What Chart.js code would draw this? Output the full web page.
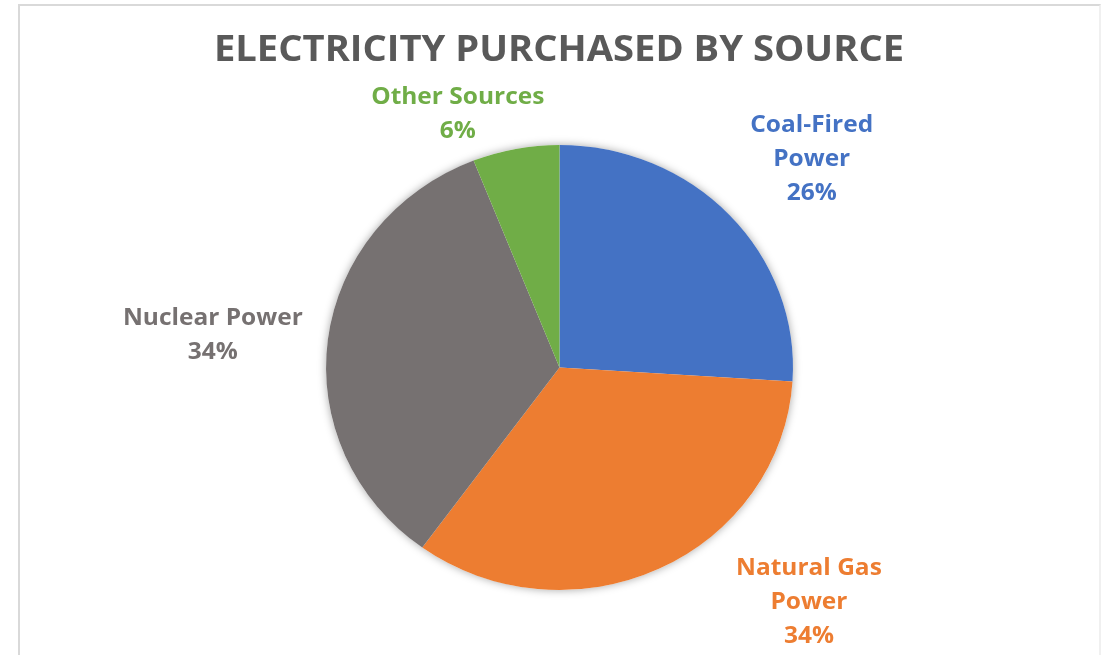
<!DOCTYPE html>
<html>
<head>
<meta charset="utf-8">
<script src="https://cdn.jsdelivr.net/npm/chart.js@4.4.4/dist/chart.umd.min.js"></script>
<style>
    body { margin: 0; background: #fff; }
    #frame {
        position: absolute; left: 18px; top: 4px; width: 1079px; height: 700px;
        border-top: 2px solid #d9d9d9; border-left: 2px solid #d9d9d9; border-right: 2px solid #f0f0f0;
    }
    #chart { position: absolute; left: 0; top: 0; }
</style>
</head>
<body>
<div id="frame"></div>
<canvas id="chart" width="1106" height="655"></canvas>
<script>
// data
const titleText = 'ELECTRICITY PURCHASED BY SOURCE';
const sources = ['Coal-Fired Power', 'Natural Gas Power', 'Nuclear Power', 'Other Sources'];
const labelLines = [['Coal-Fired', 'Power'], ['Natural Gas', 'Power'], ['Nuclear Power'], ['Other Sources']];
const shares = [26, 34, 34, 6];
const sliceColors = ['#4472C4', '#ED7D31', '#767171', '#70AD47'];

const FONT = '"Open Sans", "Noto Sans", sans-serif';
// the original pie is a touch wider than tall
const STRETCH_X = 1.024;
const STRETCH_Y = 0.976;

function drawScaled(ctx, text, x, y, font, color, sx) {
    ctx.save();
    ctx.font = font;
    ctx.fillStyle = color;
    ctx.textAlign = 'center';
    ctx.textBaseline = 'middle';
    ctx.translate(x, y);
    ctx.scale(sx, 1);
    ctx.fillText(text, 0, 0);
    ctx.restore();
}

// stretch the pie and put a soft shadow under it
const pieShape = {
    id: 'pieShape',
    beforeDatasetsDraw(chart) {
        const arc = chart.getDatasetMeta(0).data[0];
        if (!arc) return;
        const ctx = chart.ctx;
        ctx.save();
        ctx.translate(arc.x, arc.y);
        ctx.scale(STRETCH_X, STRETCH_Y);
        ctx.translate(-arc.x, -arc.y);
        ctx.save();
        ctx.beginPath();
        ctx.arc(arc.x, arc.y, arc.outerRadius, 0, Math.PI * 2);
        ctx.fillStyle = '#fff';
        ctx.shadowColor = 'rgba(0,0,0,0.35)';
        ctx.shadowBlur = 9;
        ctx.fill();
        ctx.restore();
    },
    afterDatasetsDraw(chart) {
        chart.ctx.restore();
    }
};

// title + outside labels placed like Excel's best-fit labels
const excelLabels = {
    id: 'excelLabels',
    afterDatasetsDraw(chart, args, opts) {
        const ctx = chart.ctx;
        drawScaled(ctx, titleText, 559, 51, 'bold 36px ' + FONT, '#595959', 1.06);

        const meta = chart.getDatasetMeta(0);
        const total = shares.reduce((a, b) => a + b, 0);
        meta.data.forEach((arc, i) => {
            const mid = (arc.startAngle + arc.endAngle) / 2;
            const ex = arc.x + Math.cos(mid) * arc.outerRadius * STRETCH_X;
            const ey = arc.y + Math.sin(mid) * arc.outerRadius * STRETCH_Y;
            const off = opts.offsets[i];
            const lines = labelLines[i].concat([Math.round(shares[i] / total * 100) + '%']);
            const cx = ex + off[0];
            const cy = ey + off[1];
            const top = cy - (lines.length - 1) * opts.lineHeight / 2;
            lines.forEach((t, k) => {
                drawScaled(ctx, t, cx, top + k * opts.lineHeight, 'bold 24px ' + FONT, sliceColors[i], 1.02);
            });
        });
    }
};

const ctx = document.getElementById('chart').getContext('2d');
new Chart(ctx, {
    type: 'pie',
    data: {
        labels: sources,
        datasets: [{
            data: shares,
            backgroundColor: sliceColors,
            borderWidth: 0
        }]
    },
    options: {
        responsive: false,
        animation: false,
        radius: 228,
        layout: { padding: { top: 139.5, bottom: 59.5, left: 100, right: 87 } },
        plugins: {
            legend: { display: false },
            tooltip: { enabled: false },
            title: { display: false },
            excelLabels: {
                lineHeight: 34,
                offsets: [[82, -56], [150, 33], [-115, -4], [-58, -35]]
            }
        }
    },
    plugins: [pieShape, excelLabels]
});
</script>
</body>
</html>
